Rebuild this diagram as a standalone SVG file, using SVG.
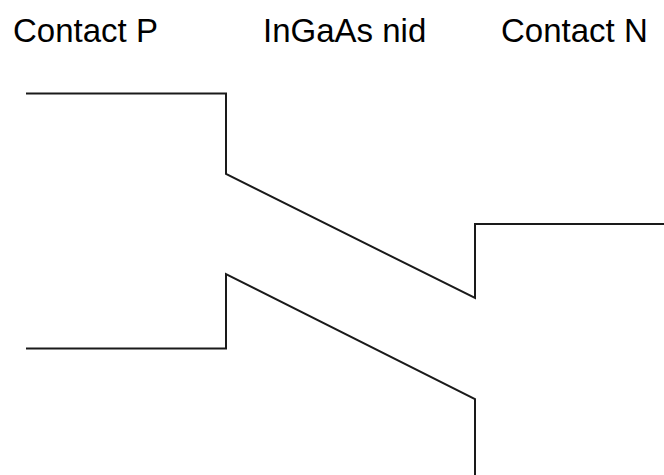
<svg xmlns="http://www.w3.org/2000/svg" width="664" height="475" viewBox="0 0 664 475">
<style>
text{font-family:"Liberation Sans",Arial,sans-serif;font-size:33px;fill:#000}
.band{fill:none;stroke:#1a1a1a;stroke-width:2;stroke-linejoin:miter}
</style>
<rect width="664" height="475" fill="#fff"/>
<g id="labels">
<text x="13" y="42">Contact P</text>
<text x="263" y="42">InGaAs nid</text>
<text x="501" y="42">Contact N</text>
</g>
<g id="bands">
<polyline id="conduction" class="band" points="26,93.5 226,93.5 226,174 475,298 475,224 664,224"/>
<polyline id="valence" class="band" points="26,348.5 226,348.5 226,274 475,399 475,475"/>
</g>
</svg>
